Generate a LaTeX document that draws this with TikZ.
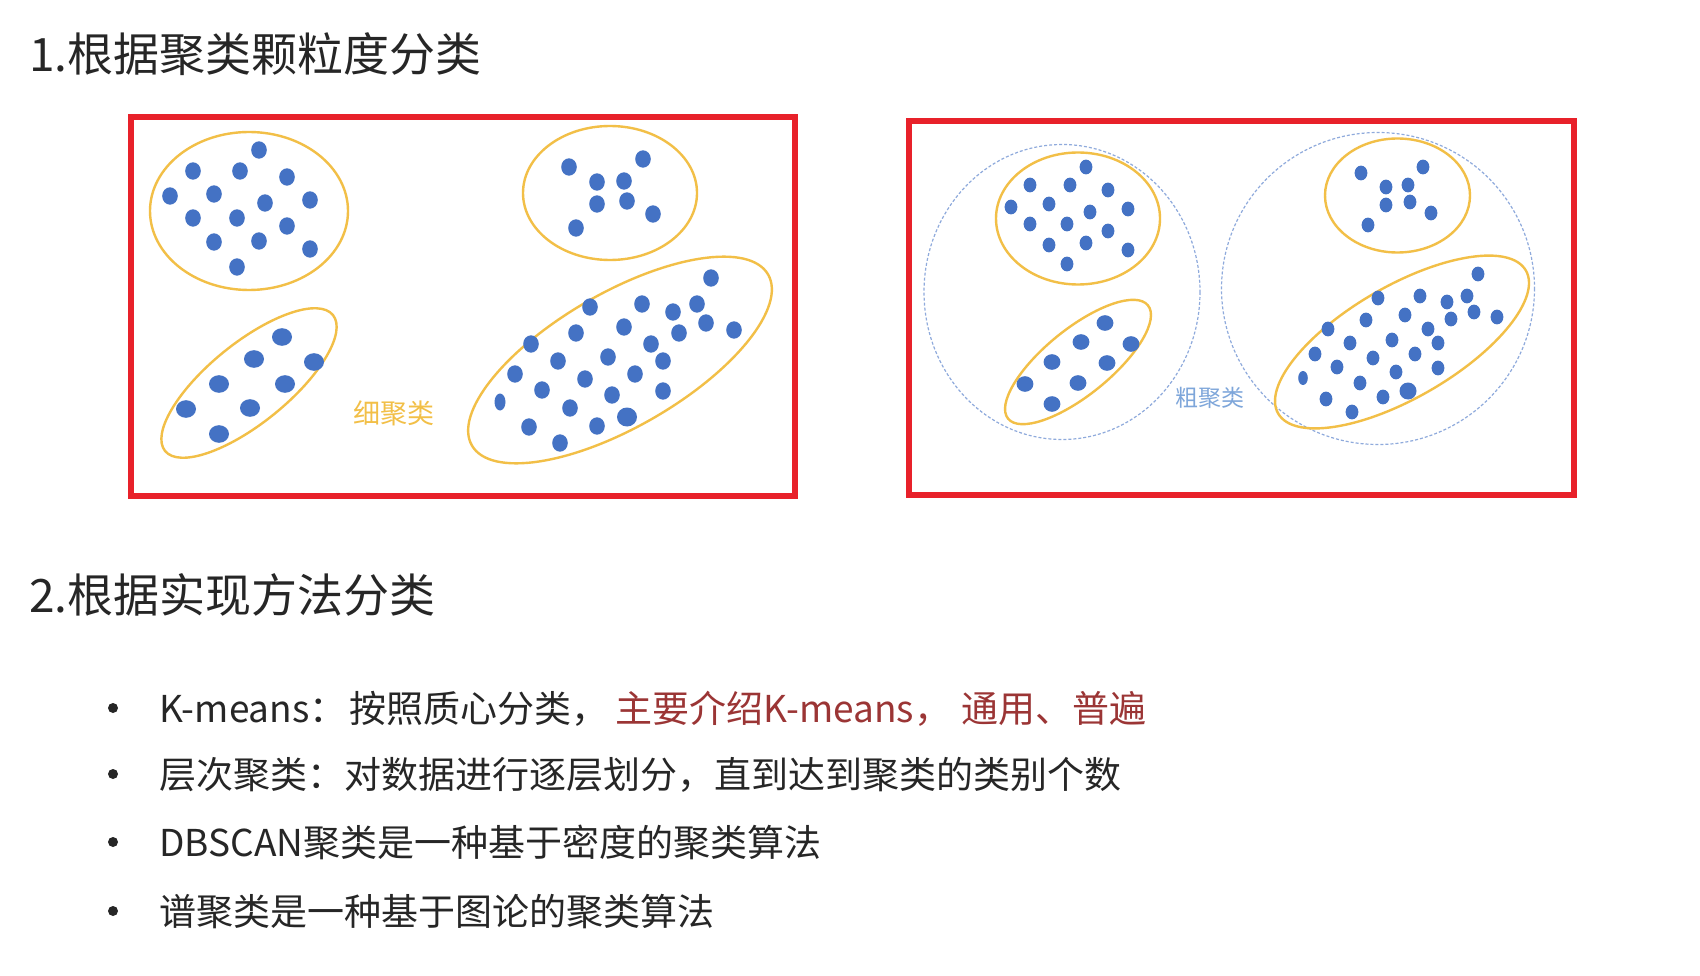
\documentclass[tikz,border=0pt]{standalone}
\usepackage{fontspec}
\setmainfont{Noto Sans CJK SC}
\definecolor{txtgray}{HTML}{262626}
\definecolor{kred}{HTML}{9B3535}
\definecolor{gold}{HTML}{F2BF47}
\definecolor{dotblue}{HTML}{4472C4}
\definecolor{dashblue}{HTML}{8FAADC}
\definecolor{lblblue}{HTML}{7EA6DA}
\definecolor{boxred}{HTML}{E8212A}
\begin{document}
\begin{tikzpicture}[x=1pt,y=-1pt,
  clus/.style={draw=gold,line width=2.4pt},
  frame/.style={draw=boxred,line width=6pt},
  coarse/.style={draw=dashblue,line width=1.2pt,dash pattern=on 3pt off 2pt},
  title/.style={anchor=base west,inner sep=0pt,text=txtgray,font=\fontsize{46}{46}\selectfont},
  item/.style={anchor=base west,inner sep=0pt,text=txtgray,font=\fontsize{37}{37}\selectfont},
  bullet/.style={fill=txtgray}]
\useasboundingbox[fill=white] (0,0) rectangle (1700,976);

% titles
\node[title] (t1) at (29,72) {1.根据聚类颗粒度分类};
\node[title] (t2) at (29,612.5) {2.根据实现方法分类};

% ---------- left frame: fine clustering ----------
\draw[frame] (131,117) rectangle (795,496);
\draw[clus] (249,211) ellipse [x radius=99, y radius=79];
\draw[clus] (610,193) ellipse [x radius=87, y radius=67];
\draw[clus, rotate around={39:(249,383)}] (249,383) ellipse [x radius=108, y radius=40];
\draw[clus, rotate around={30:(620,360)}] (620,360) ellipse [x radius=171, y radius=67];
\foreach \x/\y in {259/150,193/171,240/171,287/177,170/196,214/194,265/203,310/200,193/218,237/218,287/226,214/242,259/241,310/249,237/267,
  569/167,643/159,597/182,624/181,597/204,627/201,653/214,576/228,
  711/278,590/307,642/304,673/312,697/304,706/323,734/330,576/333,624/327,679/333,531/344,651/344,558/361,608/357,663/361,515/374,585/379,635/374,542/390,612/395,663/391,570/408,529/427,597/426,560/443}
  \fill[dotblue] (\x,\y) ellipse [x radius=7.8, y radius=8.7];
\fill[dotblue] (500,402) ellipse [x radius=5.5, y radius=8.5];
\fill[dotblue] (627,417) ellipse [x radius=10, y radius=9.5];
\foreach \x/\y in {282/337,254/359,314/362,219/384,285/384,186/409,250/408,219/434}
  \fill[dotblue] (\x,\y) ellipse [x radius=10, y radius=8.8];
\node[inner sep=0pt,text=gold,font=\fontsize{27}{27}\selectfont] (fine) at (394,413) {细聚类};

% ---------- right frame: coarse clustering ----------
\draw[frame] (909,121) rectangle (1574,495);
\draw[coarse] (1062,292) ellipse [x radius=138, y radius=147.5];
\draw[coarse] (1378,288.5) ellipse [x radius=156.5, y radius=156];
\draw[clus] (1078,218.5) ellipse [x radius=82, y radius=66];
\draw[clus] (1397.5,195.5) ellipse [x radius=72.5, y radius=57];
\draw[clus, rotate around={39:(1078,362)}] (1078,362) ellipse [x radius=90, y radius=33];
\draw[clus, rotate around={30:(1402,342)}] (1402,342) ellipse [x radius=143, y radius=56];
\foreach \x/\y in {1086/167,1030/185,1070/185,1108/190,1011/207,1049/204,1090/212,1128/209,1030/224,1067/224,1108/231,1049/245,1086/243,1128/250,1067/264,
  1361/173,1423/167,1386/187,1408/185,1386/205,1410/202,1431/213,1368/225,
  1478/274,1378/298,1420/296,1447/302,1467/296,1474/312,1497/317,1366/320,1405/315,1451/319,1328/329,1428/329,1350/343,1392/340,1438/343,1315/354,1373/358,1415/354,1337/367,1396/372,1438/368,1360/383,1326/399,1383/397,1352/412}
  \fill[dotblue] (\x,\y) ellipse [x radius=6.4, y radius=7.4];
\fill[dotblue] (1303,378) ellipse [x radius=4.8, y radius=7];
\fill[dotblue] (1408,391) ellipse [x radius=8.5, y radius=8.5];
\foreach \x/\y in {1105/323,1081/342,1131/344,1052/362,1107/363,1025/384,1078/383,1052/404}
  \fill[dotblue] (\x,\y) ellipse [x radius=8.4, y radius=7.8];
\node[inner sep=0pt,text=lblblue,font=\fontsize{23}{23}\selectfont] (coarselbl) at (1210,398) {粗聚类};

% ---------- bullet list ----------
\fill[bullet] (113,708) circle [radius=5];
\fill[bullet] (113,774) circle [radius=5];
\fill[bullet] (113,842) circle [radius=5];
\fill[bullet] (113,911) circle [radius=5];
\node[item] (b1) at (159,722) {K-means：\hspace{3pt}按照质心分类，\hspace{7pt}\textcolor{kred}{主要介绍K-means，\hspace{10pt}通用、普遍}};
\node[item] (b2) at (159,788) {层次聚类：对数据进行逐层划分，直到达到聚类的类别个数};
\node[item] (b3) at (159,856) {DBSCAN聚类是一种基于密度的聚类算法};
\node[item] (b4) at (159,925) {谱聚类是一种基于图论的聚类算法};
\end{tikzpicture}
\end{document}
